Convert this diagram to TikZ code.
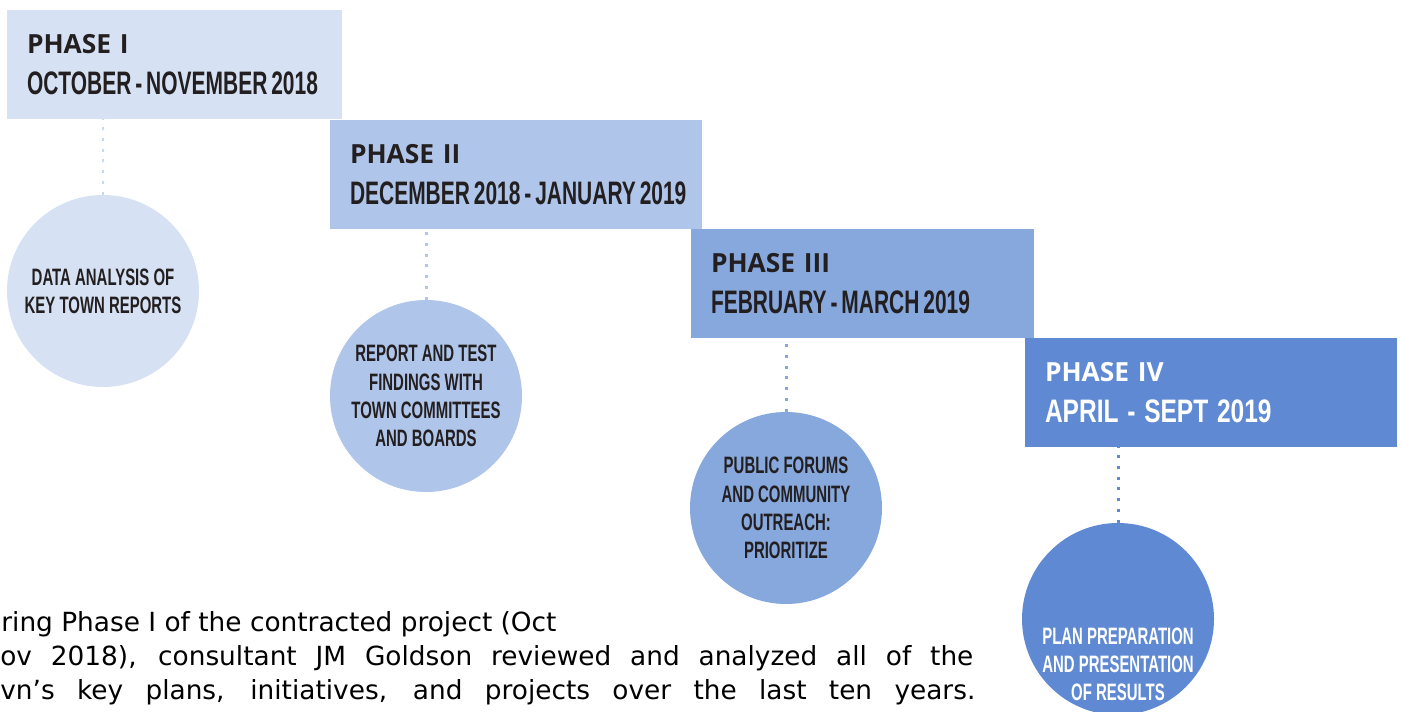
\documentclass[tikz,border=0pt]{standalone}
\usepackage{fontspec}
\setmainfont{Liberation Sans}
\newfontfamily\phasefont{Open Sans}
\newfontfamily\datefont[FakeStretch=0.645]{Liberation Sans}
\newfontfamily\datewidefont[FakeStretch=0.754]{Liberation Sans}
\newfontfamily\circfont[FakeStretch=0.63]{Liberation Sans}
\newfontfamily\bodyfont{DejaVu Sans}
\usetikzlibrary{positioning}

\definecolor{phaseA}{HTML}{D6E2F3}
\definecolor{phaseB}{HTML}{AFC5E9}
\definecolor{phaseC}{HTML}{87A8DD}
\definecolor{phaseD}{HTML}{5F8AD3}
\definecolor{ink}{HTML}{231F20}

% tight condensed date line
\newcommand\dateline{\datefont\bfseries\fontsize{18.5pt}{23.3pt}\selectfont\spaceskip=0.12em\relax}

\begin{document}
\begin{tikzpicture}[
    phasebox/.style={rectangle, minimum height=2.18cm, inner xsep=0.4cm,
                     inner ysep=0pt, align=left, text=ink,
                     font=\fontsize{15pt}{23.3pt}\selectfont},
    steplabel/.style={align=center, inner sep=0pt, text=ink,
                      font=\circfont\bfseries\fontsize{13.5pt}{16pt}\selectfont},
    stepnode/.style={steplabel, circle, minimum size=3.84cm},
    link/.style={line width=1.7pt, dash pattern=on 1.7pt off 4.4pt},
    bodytext/.style={anchor=base west, inner sep=0pt, text=black,
                     font=\bodyfont\fontsize{15pt}{18pt}\selectfont}
]
\useasboundingbox (0,0) rectangle (28.04,14.24);
\clip (0,0) rectangle (28.04,14.24);

% --- phase boxes (stairs) ---
\node[phasebox, fill=phaseA, text width=5.9cm] (ph1) at (3.49, 12.95)
    {\mbox{\phasefont\bfseries PHASE I}\\
     \mbox{\dateline OCTOBER - NOVEMBER 2018}};
\node[phasebox, fill=phaseB, text width=6.64cm] (ph2) at (10.32, 10.75)
    {\mbox{\phasefont\bfseries PHASE II}\\
     \mbox{\dateline DECEMBER 2018 - JANUARY 2019}};
\node[phasebox, fill=phaseC, text width=6.06cm] (ph3) at (17.25, 8.57)
    {\mbox{\phasefont\bfseries PHASE III}\\
     \mbox{\dateline FEBRUARY - MARCH 2019}};
\node[phasebox, fill=phaseD, text width=6.64cm, text=white] (ph4) at (24.22, 6.39)
    {\mbox{\phasefont\bfseries PHASE IV}\\
     \mbox{\datewidefont\bfseries\fontsize{18.5pt}{23.3pt}\selectfont APRIL - SEPT 2019}};

% --- activity circles ---
\node[stepnode, fill=phaseA] (act1) at (2.06, 8.42)
    {DATA ANALYSIS OF\\KEY TOWN REPORTS};
\node[stepnode, fill=phaseB] (act2) at (8.52, 6.32)
    {REPORT AND TEST\\FINDINGS WITH\\TOWN COMMITTEES\\AND BOARDS};
\node[stepnode, fill=phaseC] (act3) at (15.72, 4.08)
    {PUBLIC FORUMS\\AND COMMUNITY\\OUTREACH:\\PRIORITIZE};
\node[stepnode, fill=phaseD] (act4) at (22.36, 1.86) {};
\node[steplabel, text=white] (act4txt) at ([yshift=-0.9cm]act4.center)
    {PLAN PREPARATION\\AND PRESENTATION\\OF RESULTS};

% dotted leaders
\draw[link, phaseA!65!phaseB] (act1.north) -- (act1.north |- ph1.south);
\draw[link, phaseB] (act2.north) -- (act2.north |- ph2.south);
\draw[link, phaseC] (act3.north) -- (act3.north |- ph3.south);
\draw[link, phaseD] (act4.north) -- (act4.north |- ph4.south);

% --- running text ---
\node[bodytext] (txt1) at (0.02, 1.60)
    {ring Phase I of the contracted project (Oct};
\node[bodytext] (txt2) at (0, 0.92)
    {\makebox[19.46cm][s]{ov 2018), consultant JM Goldson reviewed and analyzed all of the}};
\node[bodytext] (txt3) at (0, 0.24)
    {\makebox[19.5cm][s]{vn’s key plans, initiatives, and projects over the last ten years.}};

\end{tikzpicture}
\end{document}
